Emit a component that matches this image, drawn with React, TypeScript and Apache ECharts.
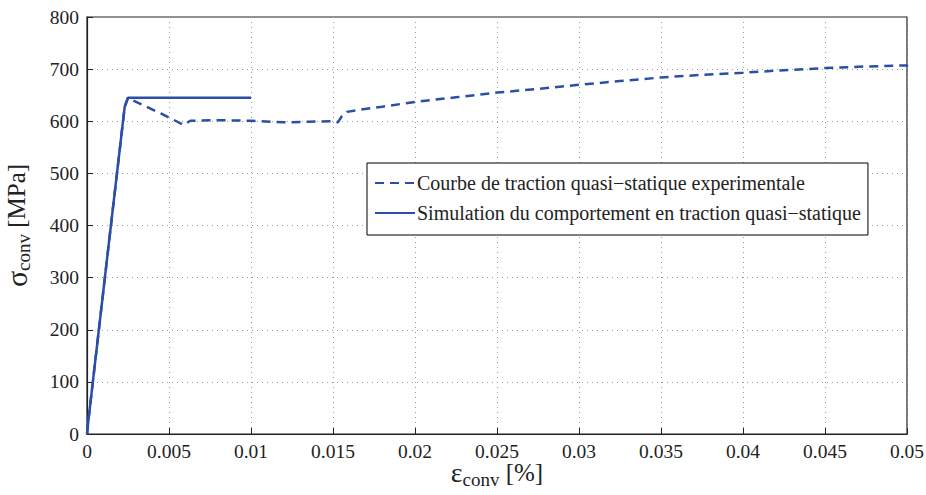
import React, { useEffect, useRef } from "react";
import * as echarts from "echarts";

const strainExp = [0, 0.0001, 0.0012, 0.0023, 0.0025, 0.0028, 0.0045, 0.0059, 0.0063, 0.008, 0.01, 0.012, 0.0135, 0.015, 0.0153, 0.01555, 0.01585, 0.0166, 0.018, 0.02, 0.0225, 0.025, 0.0275, 0.03, 0.0325, 0.035, 0.0375, 0.04, 0.0425, 0.045, 0.0475, 0.0495, 0.05, 0.05];
const stressExp = [0, 30, 330, 628, 645, 640, 615, 593, 601, 602, 601, 598, 599, 600, 598, 610, 618, 622, 628, 637, 646, 655, 662, 670, 677, 684, 689, 693, 698, 702, 705, 707, 707, 697];

const strainSim = [0, 0.0001, 0.0012, 0.0023, 0.0025, 0.005, 0.01];
const stressSim = [0, 30, 330, 628, 645, 645, 645];

const xTicks = [0, 0.005, 0.01, 0.015, 0.02, 0.025, 0.03, 0.035, 0.04, 0.045, 0.05];
const yTicks = [0, 100, 200, 300, 400, 500, 600, 700, 800];

const legendNames = [
  "Courbe de traction quasi\u2212statique experimentale",
  "Simulation du comportement en traction quasi\u2212statique",
];

const COLOR = "#2B4EA8";
const FONT = "Liberation Serif";

export default function App() {
  const ref = useRef<HTMLDivElement>(null);
  useEffect(() => {
    if (!ref.current) return;
    const chart = echarts.init(ref.current, null, { renderer: "svg" });
    const fmtX = (v: number) => {
      const idx = xTicks.findIndex((t) => Math.abs(t - v) < 1e-9);
      return idx >= 0 ? String(xTicks[idx]) : "";
    };
    const fmtY = (v: number) => {
      const idx = yTicks.findIndex((t) => Math.abs(t - v) < 1e-9);
      return idx >= 0 ? String(yTicks[idx]) : "";
    };
    chart.setOption({
      animation: false,
      backgroundColor: "#fff",
      grid: {
        left: 87,
        top: 17,
        right: 19,
        bottom: 61,
        outerBoundsMode: "none",
        show: true,
        borderColor: "#222",
        borderWidth: 1.2,
      },
      legend: {
        show: true,
        orient: "vertical",
        left: 367,
        top: 163,
        backgroundColor: "#fff",
        borderColor: "#000",
        borderWidth: 1,
        padding: [10, 7, 12, 7],
        itemGap: 10,
        itemWidth: 40,
        itemHeight: 14,
        itemStyle: { opacity: 0, color: "transparent", borderWidth: 0 },
        textStyle: { fontFamily: FONT, fontSize: 20, color: "#222", padding: [0, 0, 0, -3] },
        data: legendNames,
      },
      xAxis: {
        type: "value",
        min: 0,
        max: 0.05,
        interval: 0.005,
        axisLine: { show: true, lineStyle: { color: "#222", width: 1.2 } },
        axisTick: { show: true, inside: true, length: 6, lineStyle: { color: "#222" } },
        axisLabel: { fontFamily: FONT, fontSize: 19.5, color: "#222", margin: 7, formatter: fmtX },
        splitLine: { show: true, lineStyle: { color: "#999", type: [1, 4], width: 1 } },
        name: "{e|\u03b5}{s|conv}{b| [%]}",
        nameLocation: "middle",
        nameGap: 22,
        nameMoveOverlap: false,
        nameTextStyle: {
          rich: {
            e: { fontFamily: FONT, fontSize: 28, color: "#222" },
            s: { fontFamily: FONT, fontSize: 19, color: "#222", padding: [14, 0, 0, 0] },
            b: { fontFamily: FONT, fontSize: 25, color: "#222" },
          },
        },
      },
      yAxis: {
        type: "value",
        min: 0,
        max: 800,
        interval: 100,
        axisLine: { show: true, lineStyle: { color: "#222", width: 1.2 } },
        axisTick: { show: true, inside: true, length: 6, lineStyle: { color: "#222" } },
        axisLabel: { fontFamily: FONT, fontSize: 19.5, color: "#222", margin: 8, formatter: fmtY },
        splitLine: { show: true, lineStyle: { color: "#999", type: [1, 4], width: 1 } },
        name: "{e|\u03c3}{s|conv}{b| [MPa]}",
        nameLocation: "middle",
        nameGap: 54,
        nameTextStyle: {
          rich: {
            e: { fontFamily: FONT, fontSize: 30, color: "#222" },
            s: { fontFamily: FONT, fontSize: 19, color: "#222", padding: [14, 0, 0, 0] },
            b: { fontFamily: FONT, fontSize: 25, color: "#222" },
          },
        },
      },
      series: [
        {
          name: legendNames[0],
          type: "line",
          symbol: "none",
          data: strainExp.map((x, i) => [x, stressExp[i]]),
          lineStyle: { color: COLOR, width: 2.5, type: [9, 6] },
          itemStyle: { color: COLOR },
          z: 3,
        },
        {
          name: legendNames[1],
          type: "line",
          symbol: "none",
          data: strainSim.map((x, i) => [x, stressSim[i]]),
          lineStyle: { color: COLOR, width: 2.5 },
          itemStyle: { color: COLOR },
          z: 4,
        },
      ],
    });
    return () => chart.dispose();
  }, []);
  return (
    <div
      ref={ref}
      style={{ position: "fixed", left: 0, top: 0, width: 926, height: 495, background: "#fff" }}
    />
  );
}
